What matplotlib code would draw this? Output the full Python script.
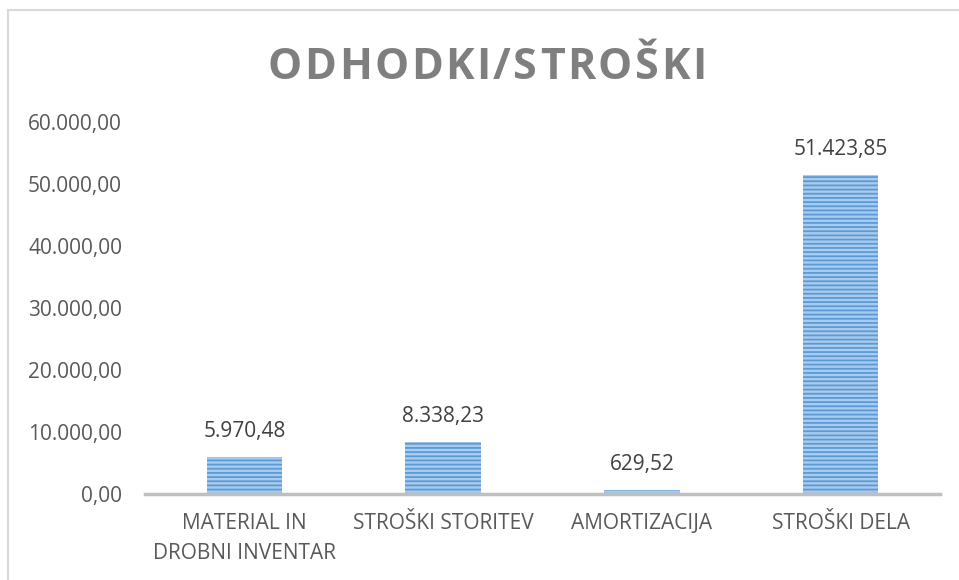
import matplotlib
matplotlib.use("Agg")
import matplotlib.pyplot as plt
from matplotlib.patches import Rectangle
from matplotlib.ticker import FuncFormatter

categories = ["MATERIAL IN\nDROBNI INVENTAR", "STROŠKI STORITEV", "AMORTIZACIJA", "STROŠKI DELA"]
values = [5970.48, 8338.23, 629.52, 51423.85]
yticks = [0, 10000, 20000, 30000, 40000, 50000, 60000]
title = "ODHODKI/STROŠKI"


def si_fmt(v, pos=None):
    s = "{:,.2f}".format(v)
    return s.replace(",", "X").replace(".", ",").replace("X", ".")


plt.rcParams['font.family'] = ['Open Sans', 'DejaVu Sans']
plt.rcParams['hatch.linewidth'] = 1.3
plt.rcParams['hatch.color'] = '#5b9bd5'

fig = plt.figure(figsize=(9.59, 5.80), dpi=100)
ax = fig.add_axes([145 / 959, 86 / 580, 795 / 959, 372 / 580])

x = range(len(categories))
ax.bar(x, values, width=0.38, color='#a9cbee', edgecolor='#5b9bd5',
       linewidth=0, hatch='----')
for xi, v in zip(x, values):
    ax.annotate(si_fmt(v), (xi, v), xytext=(0, 11), textcoords='offset points',
                ha='center', va='bottom', fontsize=15, color='#404040')

ax.set_xlim(-0.5, len(categories) - 0.5)
ax.set_ylim(0, 60000)
ax.set_yticks(yticks)
ax.yaxis.set_major_formatter(FuncFormatter(si_fmt))
ax.set_xticks(list(x))
ax.set_xticklabels(categories, fontsize=15, color='#595959', linespacing=1.55)
ax.tick_params(axis='y', labelsize=15, colors='#595959', length=0, pad=16.5)
ax.tick_params(axis='x', length=0, pad=14)
for s in ['top', 'right', 'left']:
    ax.spines[s].set_visible(False)
ax.spines['bottom'].set_color('#bfbfbf')
ax.spines['bottom'].set_linewidth(2.5)

# title with letter spacing, drawn char by char
fig.canvas.draw()
r = fig.canvas.get_renderer()
fs = 31
spacing = 2.5
widths = []
for ch in title:
    t = fig.text(0, 0, ch, fontsize=fs, fontweight='bold')
    widths.append(t.get_window_extent(r).width)
    t.remove()
total = sum(widths) + spacing * (len(title) - 1)
xpos = 487 - total / 2
for ch, w in zip(title, widths):
    fig.text(xpos / 959, 1 - 79 / 580, ch, fontsize=fs, fontweight='bold',
             color='#7f7f7f', ha='left', va='baseline')
    xpos += w + spacing

fig.patches.append(Rectangle((8 / 959, -0.1), 1.2, 1.1 - 10 / 580,
                             transform=fig.transFigure, fill=False,
                             edgecolor='#d9d9d9', linewidth=1.5))

fig.savefig("out.png", dpi=100)
